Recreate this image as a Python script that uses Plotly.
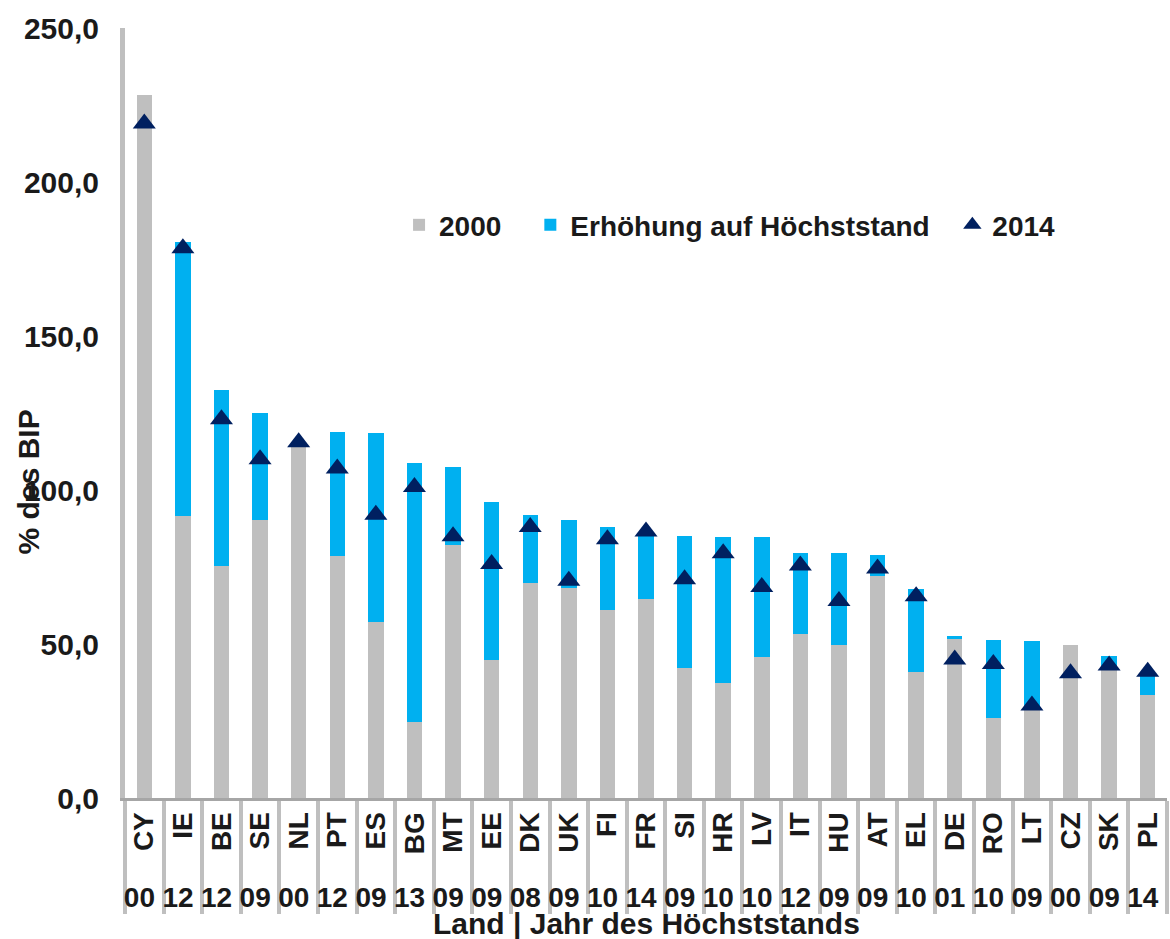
import plotly.graph_objects as go

# ---- data ----
codes = ["CY", "IE", "BE", "SE", "NL", "PT", "ES", "BG", "MT", "EE", "DK", "UK", "FI", "FR",
         "SI", "HR", "LV", "IT", "HU", "AT", "EL", "DE", "RO", "LT", "CZ", "SK", "PL"]
peak_years = ["00", "12", "12", "09", "00", "12", "09", "13", "09", "09", "08", "09", "10", "14",
              "09", "10", "10", "12", "09", "09", "10", "01", "10", "09", "00", "09", "14"]
debt_2000 = [228.2, 91.6, 75.3, 90.3, 114.6, 78.6, 57.1, 24.7, 82.1, 44.8, 69.8, 68.2, 61.0, 64.6,
             42.2, 37.3, 45.8, 53.2, 49.7, 72.1, 40.9, 51.6, 26.0, 28.6, 49.7, 41.6, 33.4]
increase_to_peak = [0.0, 88.9, 57.2, 34.7, 0.0, 40.2, 61.4, 84.1, 25.4, 51.3, 22.1, 22.1, 27.0, 21.9,
                    42.9, 47.4, 38.9, 26.3, 29.8, 6.8, 27.0, 1.0, 25.3, 22.4, 0.0, 4.5, 7.6]
debt_2014 = [219.0, 178.5, 123.0, 110.0, 115.5, 107.0, 92.0, 101.0, 85.0, 76.0, 88.0, 70.5, 84.0, 86.5,
             71.0, 79.5, 68.5, 75.5, 64.0, 74.5, 65.5, 45.0, 43.5, 30.0, 40.5, 43.0, 41.0]

# each category gets its own (visually identical) year label so the
# multicategory axis does not merge neighbouring equal years
year_labels = [y + "\u200b" * i for i, y in enumerate(peak_years)]
x = [year_labels, codes]

GREY = "#bfbfbf"
BLUE = "#00b0f0"
NAVY = "#002060"
FONT = "Liberation Sans"

fig = go.Figure()
fig.add_bar(x=x, y=debt_2000, name="2000", legend="legend2", showlegend=True,
            marker=dict(color=GREY, line=dict(width=0)))
fig.add_bar(x=x, y=increase_to_peak, name="Erhöhung auf Höchststand", legend="legend3",
            showlegend=True, marker=dict(color=BLUE, line=dict(width=0)))
fig.add_scatter(x=x, y=debt_2014, name="2014", mode="markers", legend="legend4", showlegend=True,
                marker=dict(symbol="triangle-up", size=20, color=NAVY, line=dict(width=0)))

legend_common = dict(orientation="h", yanchor="middle", xanchor="left", y=0.744,
                     bgcolor="rgba(0,0,0,0)", font=dict(size=28), itemclick=False)

fig.update_layout(
    width=1170, height=939,
    showlegend=True,
    barmode="stack", bargap=0.6,
    separators=",.",
    plot_bgcolor="white", paper_bgcolor="white",
    margin=dict(l=125, r=3, t=28, b=141),
    font=dict(family=FONT, size=28, color="#1a1a1a", weight="bold"),
    legend2=dict(x=0.263, **legend_common),
    legend3=dict(x=0.389, **legend_common),
    legend4=dict(x=0.794, **legend_common),
    annotations=[
        dict(text="% des BIP", xref="paper", yref="paper", x=-0.093, y=0.41,
             textangle=-90, showarrow=False, xanchor="center", yanchor="middle",
             font=dict(size=30, family=FONT, weight="bold")),
        dict(text="Land | Jahr des Höchststands", xref="paper", yref="paper", x=0.5, y=-0.1625,
             showarrow=False, xanchor="center", yanchor="middle",
             font=dict(size=30, family=FONT, weight="bold")),
    ],
)
fig.update_xaxes(type="multicategory", range=[-0.5, 26.5], tickangle=-90,
                 showline=True, linecolor="#a6a6a6", linewidth=3,
                 showdividers=True, dividercolor=GREY, dividerwidth=4,
                 ticks="outside", tickson="boundaries", ticklen=2, tickwidth=4, tickcolor=GREY,
                 showgrid=False, zeroline=False)
fig.update_yaxes(range=[0, 250], dtick=50, tickformat=".1f", showgrid=False, showline=True,
                 linecolor=GREY, linewidth=5, ticks="", ticklabelstandoff=15, zeroline=False,
                 tickfont=dict(size=30))

fig.write_html("out.html", config={"displayModeBar": False},
               post_script="document.body.style.margin='0';")
